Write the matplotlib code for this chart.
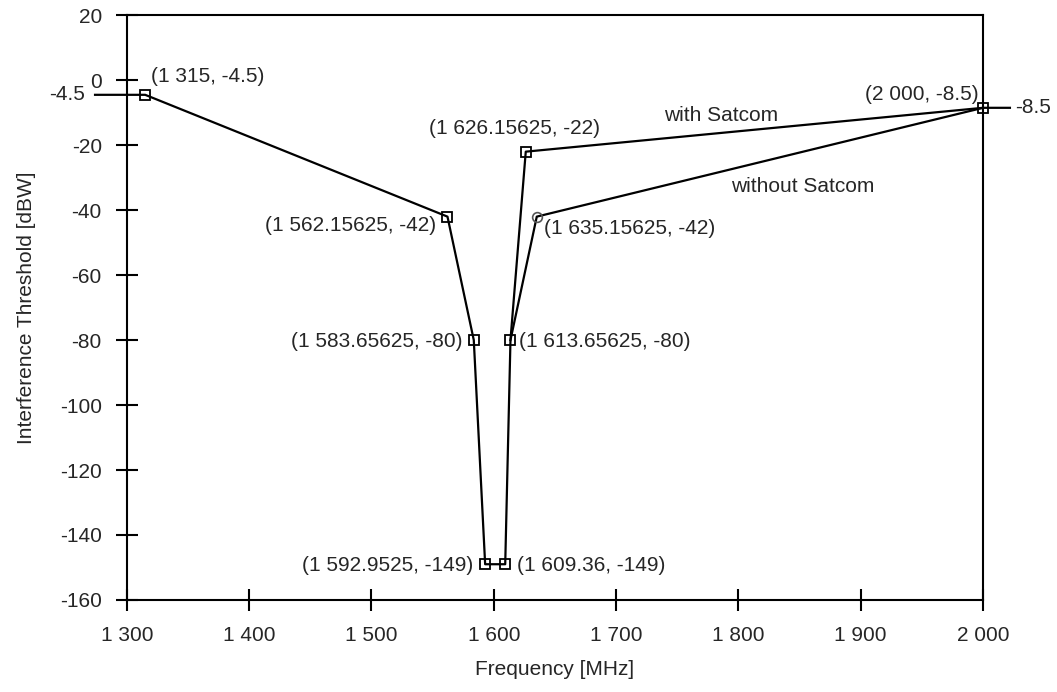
import matplotlib.pyplot as plt
from matplotlib.ticker import FuncFormatter

plt.rcParams['font.family'] = ['Liberation Sans', 'DejaVu Sans']
plt.rcParams['axes.unicode_minus'] = False

# with Satcom mask (MHz, dBW), extended past the axes on both ends
sat_freq = [1274, 1315, 1562.15625, 1583.65625, 1592.9525, 1609.36, 1613.65625, 1626.15625, 2000, 2022]
sat_thr = [-4.5, -4.5, -42, -80, -149, -149, -80, -22, -8.5, -8.5]
sat_marked = [1, 2, 3, 4, 5, 6, 7, 8]

# without Satcom branch
nosat_freq = [1613.65625, 1635.15625, 2000]
nosat_thr = [-80, -42, -8.5]

# point labels: text, anchor x, anchor y, horizontal alignment
point_labels = [
    ("(1 315, -4.5)", 1320, 1.0, "left"),
    ("(1 562.15625, -42)", 1553, -44.6, "right"),
    ("(1 583.65625, -80)", 1574.5, -80.3, "right"),
    ("(1 592.9525, -149)", 1583, -149.5, "right"),
    ("(1 609.36, -149)", 1619, -149.5, "left"),
    ("(1 613.65625, -80)", 1620.5, -80.3, "left"),
    ("(1 626.15625, -22)", 1617.3, -15.0, "center"),
    ("(1 635.15625, -42)", 1641, -45.8, "left"),
    ("(2 000, -8.5)", 1996.5, -4.3, "right"),
]

txt_col = '#262626'
fs = 15

fig = plt.figure(figsize=(10.57, 6.92), dpi=100)
ax = fig.add_axes([0.120, 0.133, 0.810, 0.845])

ax.plot(sat_freq, sat_thr, color='black', lw=1.6, clip_on=False, zorder=3)
ax.plot([sat_freq[i] for i in sat_marked], [sat_thr[i] for i in sat_marked],
        ls='none', marker='s', ms=7.5, mfc='none', mec='black', mew=1.3,
        clip_on=False, zorder=4)
ax.plot(nosat_freq, nosat_thr, color='black', lw=1.6, clip_on=False, zorder=3)
ax.plot(nosat_freq[1], nosat_thr[1], ls='none', marker='o', ms=7,
        mfc='none', mec='#555555', mew=1.2, zorder=4)

for t, x, y, ha in point_labels:
    ax.text(x, y, t, ha=ha, va='center', fontsize=fs, color=txt_col)

ax.text(1786, -11, "with Satcom", ha='center', va='center', fontsize=fs, color=txt_col)
ax.text(1853, -32.6, "without Satcom", ha='center', va='center', fontsize=fs, color=txt_col)
ax.text(1266, -4.5, "-4.5", ha='right', va='center', fontsize=fs, color=txt_col)
ax.text(2026, -8.5, "-8.5", ha='left', va='center', fontsize=fs, color=txt_col)

ax.set_xlim(1300, 2000)
ax.set_ylim(-160, 20)
ax.set_xticks(range(1300, 2001, 100))
ax.set_yticks(range(-160, 21, 20))
ax.xaxis.set_major_formatter(FuncFormatter(lambda v, p: f"{int(v):,}".replace(",", " ")))
ax.tick_params(direction='inout', length=16, width=1.5, labelsize=fs,
               labelcolor=txt_col)
ax.tick_params(axis='x', pad=10.5)
ax.tick_params(axis='y', pad=10)

for s in ax.spines.values():
    s.set_linewidth(1.5)

ax.set_xlabel("Frequency [MHz]", fontsize=fs, color=txt_col, labelpad=11)
ax.set_ylabel("Interference Threshold [dBW]", fontsize=fs, color=txt_col, labelpad=17)

fig.savefig("out.png", dpi=100)
